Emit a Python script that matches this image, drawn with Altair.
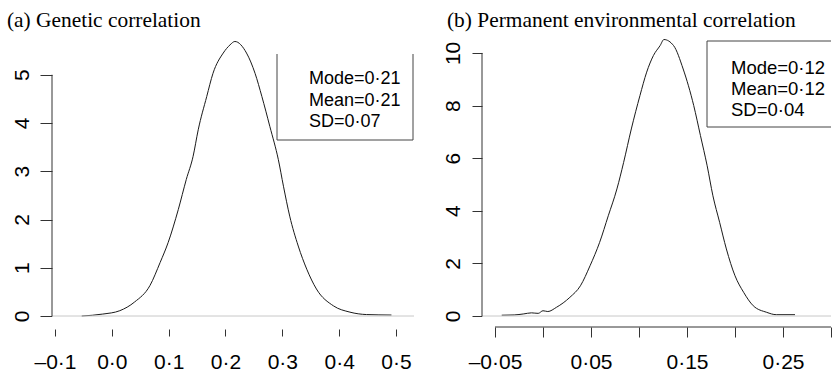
import altair as alt
import pandas as pd

# ---- data ----
gen_x = [-0.053, -0.016, 0.014, 0.040, 0.067, 0.085, 0.099, 0.117, 0.131, 0.143,
         0.152, 0.167, 0.178, 0.196, 0.208, 0.2165, 0.237, 0.252, 0.264, 0.278,
         0.293, 0.302, 0.313, 0.328, 0.343, 0.360, 0.390, 0.419, 0.448, 0.492]
gen_d = [0.0, 0.04, 0.11, 0.29, 0.63, 1.11, 1.52, 2.21, 2.83, 3.31,
         3.86, 4.55, 5.03, 5.45, 5.62, 5.69, 5.45, 5.03, 4.55, 3.93,
         3.24, 2.69, 2.07, 1.45, 0.97, 0.56, 0.21, 0.08, 0.03, 0.02]

pe_x = [-0.043, -0.030, -0.020, -0.012, -0.005, 0.000, 0.005, 0.014, 0.028, 0.039,
        0.049, 0.059, 0.068, 0.077, 0.084, 0.092, 0.101, 0.108, 0.115, 0.122,
        0.126, 0.136, 0.146, 0.157, 0.164, 0.171, 0.177, 0.184, 0.191, 0.200,
        0.209, 0.219, 0.233, 0.243, 0.2625]
pe_d = [0.03, 0.04, 0.08, 0.12, 0.10, 0.20, 0.17, 0.33, 0.71, 1.15,
        1.91, 2.80, 3.81, 4.83, 5.84, 7.11, 8.38, 9.27, 9.90, 10.28,
        10.51, 10.28, 9.39, 8.00, 6.86, 5.71, 4.57, 3.56, 2.55, 1.53,
        0.90, 0.39, 0.14, 0.05, 0.05]

gen_xticks = [-0.1, 0.0, 0.1, 0.2, 0.3, 0.4, 0.5]
gen_yticks = [0, 1, 2, 3, 4, 5]
pe_xticks = [-0.05, 0.0, 0.05, 0.1, 0.15, 0.2, 0.25, 0.3]
pe_yticks = [0, 2, 4, 6, 8, 10]

gen_stats = ["Mode=0·21", "Mean=0·21", "SD=0·07"]
pe_stats = ["Mode=0·12", "Mean=0·12", "SD=0·04"]
titles = ["(a) Genetic correlation", "(b) Permanent environmental correlation"]

SANS = "Liberation Sans"
SERIF = "Liberation Serif"
DARK = "#333333"

one = pd.DataFrame({"k": [0]})


def title_params(text, dx):
    return alt.TitleParams(text=text, anchor="start", frame="group", dx=dx, offset=-14,
                           baseline="alphabetic", font=SERIF, fontSize=21.4,
                           fontWeight="normal", color="black")


# ---------------- panel (a) ----------------
WA, HA = 362, 295
xA = alt.Scale(domain=[-0.1053, 0.5317], nice=False, zero=False)
yA = alt.Scale(domain=[-0.2694, 5.845], nice=False, zero=False)

lblA = "(datum.value < 0 ? '–' : '') + replace(format(abs(datum.value), '.1f'), '.', '·')"

curveA = alt.Chart(pd.DataFrame({"x": gen_x, "d": gen_d})).mark_line(
    color="#1a1a1a", strokeWidth=1.0, interpolate="monotone"
).encode(
    x=alt.X("x:Q", scale=xA, title=None,
            axis=alt.Axis(values=gen_xticks, domain=False, grid=False, tickSize=7,
                          tickColor=DARK, labelExpr=lblA, labelFont=SANS,
                          labelFontSize=21, labelColor="black", labelPadding=15,
                          labelBaseline="top", labelFlush=False, labelOverlap=False)),
    y=alt.Y("d:Q", scale=yA, title=None,
            axis=alt.Axis(values=gen_yticks, domain=False, grid=False, tickSize=12,
                          tickColor=DARK, labelAngle=270, labelAlign="center",
                          labelBaseline="alphabetic", labelFont=SANS, labelFontSize=21,
                          labelColor="black", labelPadding=12, labelFlush=False,
                          labelOverlap=False)),
)

zeroA = alt.Chart(one).mark_rule(color="#c8c8c8", strokeWidth=1).encode(
    y=alt.YDatum(0, title=None), x=alt.value(0), x2=alt.value(WA))
yaxA = alt.Chart(one).mark_rule(color=DARK, strokeWidth=1).encode(
    y=alt.YDatum(0, title=None), y2=alt.Y2Datum(5), x=alt.value(0))

boxA = alt.layer(
    alt.Chart(one).mark_rule(color="#444444").encode(x=alt.value(225), y=alt.value(20), y2=alt.value(106)),
    alt.Chart(one).mark_rule(color="#444444").encode(x=alt.value(361), y=alt.value(20), y2=alt.value(106)),
    alt.Chart(one).mark_rule(color="#444444").encode(x=alt.value(225), x2=alt.value(361), y=alt.value(106)),
)
textA = alt.Chart(one).mark_text(text=gen_stats, align="left", baseline="alphabetic",
                                 font=SANS, fontSize=18, lineHeight=21.5, color="black").encode(
    x=alt.value(257), y=alt.value(50))

panelA = alt.layer(curveA, zeroA, yaxA, boxA, textA).properties(
    width=WA, height=HA, title=title_params(titles[0], -45))

# ---------------- panel (b) ----------------
WB, HB = 349, 293
xB = alt.Scale(domain=[-0.06354, 0.3], nice=False, zero=False)
yB = alt.Scale(domain=[-0.418, 10.72], nice=False, zero=False)

lblB = ("indexof(['0.05','0.15','0.25'], format(abs(datum.value), '.2f')) >= 0 ? "
        "(datum.value < 0 ? '–' : '') + replace(format(abs(datum.value), '.2f'), '.', '·') : ''")

curveB = alt.Chart(pd.DataFrame({"x": pe_x, "d": pe_d})).mark_line(
    color="#1a1a1a", strokeWidth=1.0, interpolate="monotone"
).encode(
    x=alt.X("x:Q", scale=xB, title=None,
            axis=alt.Axis(values=pe_xticks, domain=False, grid=False, tickSize=10,
                          tickColor=DARK, labelExpr=lblB, labelFont=SANS,
                          labelFontSize=21, labelColor="black", labelPadding=14,
                          labelBaseline="top", labelFlush=False, labelOverlap=False)),
    y=alt.Y("d:Q", scale=yB, title=None,
            axis=alt.Axis(values=pe_yticks, domain=False, grid=False, tickSize=10,
                          tickColor=DARK, labelAngle=270, labelAlign="center",
                          labelBaseline="alphabetic", labelFont=SANS, labelFontSize=21,
                          labelColor="black", labelPadding=13, labelFlush=False,
                          labelOverlap=False)),
)

zeroB = alt.Chart(one).mark_rule(color="#c8c8c8", strokeWidth=1).encode(
    y=alt.YDatum(0, title=None), x=alt.value(0), x2=alt.value(WB))
yaxB = alt.Chart(one).mark_rule(color=DARK, strokeWidth=1).encode(
    y=alt.YDatum(0, title=None), y2=alt.Y2Datum(10), x=alt.value(0))
xaxB = alt.Chart(one).mark_rule(color=DARK, strokeWidth=1).encode(
    x=alt.XDatum(-0.05, title=None), x2=alt.X2Datum(0.3), y=alt.value(HB))

boxB = alt.layer(
    alt.Chart(one).mark_rule(color="#444444").encode(x=alt.value(225), y=alt.value(7), y2=alt.value(93)),
    alt.Chart(one).mark_rule(color="#444444").encode(x=alt.value(225), x2=alt.value(WB), y=alt.value(7)),
    alt.Chart(one).mark_rule(color="#444444").encode(x=alt.value(225), x2=alt.value(WB), y=alt.value(93)),
)
textB = alt.Chart(one).mark_text(text=pe_stats, align="left", baseline="alphabetic",
                                 font=SANS, fontSize=18.5, lineHeight=21, color="black").encode(
    x=alt.value(249), y=alt.value(40))

panelB = alt.layer(curveB, zeroB, yaxB, xaxB, boxB, textB).properties(
    width=WB, height=HB, title=title_params(titles[1], -35))

chart = alt.hconcat(panelA, panelB, spacing=68, bounds="flush").configure_view(
    stroke=None
).properties(
    padding={"left": 7, "top": 9, "right": 0, "bottom": 0}
)

chart.save("out.html", embed_options={"renderer": "svg", "actions": False})
